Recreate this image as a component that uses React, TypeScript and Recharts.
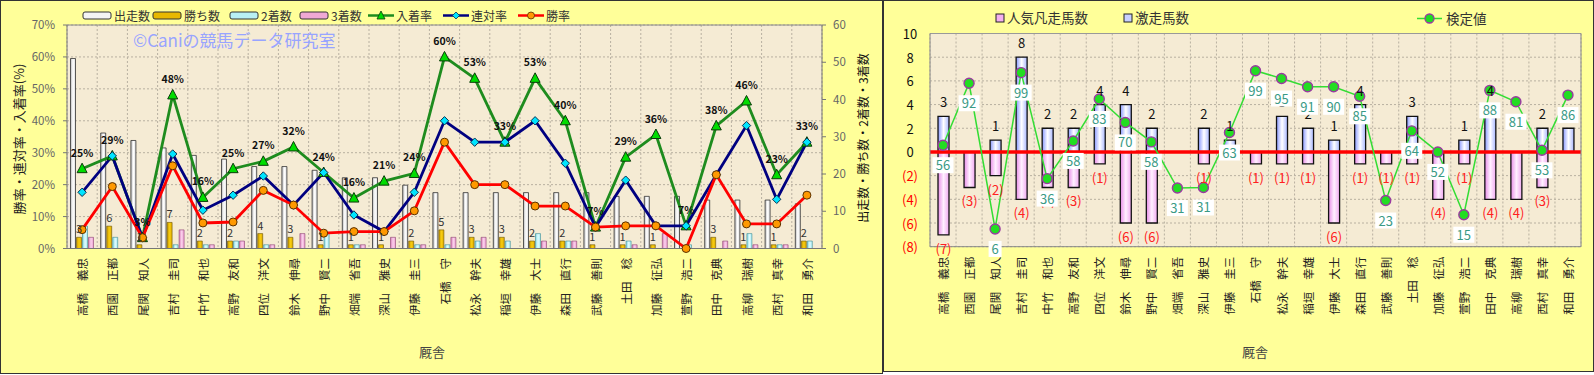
import React from "react";
import {
  ComposedChart,
  Bar,
  Line,
  XAxis,
  YAxis,
  CartesianGrid,
  LabelList,
  ReferenceLine,
} from "recharts";

const FONT = '"Noto Sans CJK JP", "Noto Sans", sans-serif';

const trainers = [
  "高橋　義忠", "西園　正都", "尾関　知人", "吉村　圭司", "中竹　和也",
  "高野　友和", "四位　洋文", "鈴木　伸尋", "野中　賢二", "畑端　省吾",
  "深山　雅史", "伊藤　圭三", "石橋　守", "松永　幹夫", "稲垣　幸雄",
  "伊藤　大士", "森田　直行", "武藤　善則", "土田　稔", "加藤　征弘",
  "萱野　浩二", "田中　克典", "高柳　瑞樹", "西村　真幸", "和田　勇介",
];

// left chart: counts (right axis)
const starts = [51, 31, 29, 27, 25, 24, 22, 22, 21, 19, 19, 17, 15, 15, 15, 15, 15, 15, 14, 14, 14, 13, 13, 13, 12];
const wins = [3, 6, 1, 7, 2, 2, 4, 3, 1, 1, 1, 2, 5, 3, 3, 2, 2, 1, 1, 1, 0, 3, 1, 1, 2];
const seconds = [6, 3, 0, 1, 1, 2, 1, 0, 4, 1, 0, 1, 1, 2, 2, 4, 2, 0, 2, 0, 1, 0, 4, 1, 2];
const thirds = [3, 0, 0, 5, 1, 2, 1, 4, 0, 1, 3, 1, 3, 3, 0, 2, 2, 0, 1, 4, 0, 2, 1, 1, 0];

// left chart: rates in % (left axis)
const placeRate = [25, 29, 3.4, 48.1, 16, 25, 27.3, 31.8, 23.8, 15.8, 21.1, 23.5, 60, 53.3, 33.3, 53.3, 40, 6.7, 28.6, 35.7, 7.1, 38.4, 46.2, 23.1, 33.3];
const quinellaRate = [17.6, 29, 3.4, 29.6, 12, 16.7, 22.7, 13.6, 23.8, 10.5, 5.3, 17.6, 40, 33.3, 33.3, 40, 26.7, 6.7, 21.4, 7.1, 7.1, 23.1, 38.5, 15.4, 33.3];
const winRate = [5.9, 19.4, 3.4, 25.9, 8, 8.3, 18.2, 13.6, 4.8, 5.3, 5.3, 11.8, 33.3, 20, 20, 13.3, 13.3, 6.7, 7.1, 7.1, 0, 23.1, 7.7, 7.7, 16.7];

// right chart
const gekisou = [3, 0, 1, 8, 2, 2, 4, 4, 2, 0, 2, 1, 0, 3, 2, 1, 4, 0, 3, 0, 1, 4, 0, 2, 2];
const bonsou = [-7, -3, -2, -4, -3, -3, -1, -6, -6, 0, -1, 0, -1, -1, -1, -6, -1, -1, -1, -4, -1, -4, -4, -3, 0];
const kenteiPos = [0.57, 5.8, -6.5, 6.7, -2.25, 0.93, 4.47, 2.49, 0.85, -3.05, -3.0, 1.64, 6.86, 6.2, 5.5, 5.5, 4.7, -4.1, 1.78, 0, -5.3, 5.2, 4.24, 0.14, 4.8];
const kenteiLabel = [56, 92, 6, 99, 36, 58, 83, 70, 58, 31, 31, 63, 99, 95, 91, 90, 85, 23, 64, 52, 15, 88, 81, 53, 86];

const rateTicks = [0, 10, 20, 30, 40, 50, 60, 70];
const countTicks = [0, 10, 20, 30, 40, 50, 60];
const diffTicks = [-8, -6, -4, -2, 0, 2, 4, 6, 8, 10];

const leftData = trainers.map((name, i) => ({
  name,
  starts: starts[i],
  wins: wins[i],
  seconds: seconds[i],
  thirds: thirds[i],
  placeRate: placeRate[i],
  quinellaRate: quinellaRate[i],
  winRate: winRate[i],
}));

const rightData = trainers.map((name, i) => ({
  name,
  gekisou: gekisou[i],
  bonsou: bonsou[i],
  kentei: kenteiPos[i],
  kenteiLabel: kenteiLabel[i],
}));

const boundaries = ({ offset }: any) =>
  Array.from({ length: trainers.length + 1 }, (_, i) => offset.left + (i * offset.width) / trainers.length);

function NameTick({ x, y, payload, dy }: any) {
  const ty = y + dy;
  const [sur, given] = String(payload.value).split("　");
  return (
    <text
      x={x}
      y={ty}
      transform={`rotate(-90, ${x}, ${ty})`}
      textAnchor="end"
      dominantBaseline="central"
      fontSize={11.5}
      fill="#222"
      fontFamily={FONT}
    >
      <tspan>{sur}</tspan>
      <tspan dx={12}>{given}</tspan>
    </text>
  );
}

function SignTick({ x, y, payload }: any) {
  const v = payload.value;
  return (
    <text
      x={x - 12}
      y={y}
      textAnchor="middle"
      dominantBaseline="central"
      fontSize={13}
      fill={v < 0 ? "#FF0000" : "#111"}
      fontFamily={FONT}
    >
      {v < 0 ? `(${-v})` : v}
    </text>
  );
}

const triangleDot = (p: any) => (
  <path
    key={`tri-${p.index}`}
    d={`M${p.cx},${p.cy - 5.5} L${p.cx + 5},${p.cy + 4} L${p.cx - 5},${p.cy + 4} Z`}
    fill="#00DD00"
    stroke="#0A3A0A"
    strokeWidth={1}
  />
);

const diamondDot = (p: any) => (
  <path
    key={`dia-${p.index}`}
    d={`M${p.cx},${p.cy - 4.2} L${p.cx + 4.2},${p.cy} L${p.cx},${p.cy + 4.2} L${p.cx - 4.2},${p.cy} Z`}
    fill="#00E5FF"
    stroke="#0A3050"
    strokeWidth={1}
  />
);

const circleDot = (p: any) => (
  <circle key={`cir-${p.index}`} cx={p.cx} cy={p.cy} r={4} fill="#FF9900" stroke="#5A3000" strokeWidth={1} />
);

const kenteiDot = (p: any) => (
  <circle key={`ken-${p.index}`} cx={p.cx} cy={p.cy} r={5} fill="#22DD22" stroke="#9A3AA0" strokeWidth={1.4} />
);

const placeLabel = (p: any) => (
  <text x={p.x} y={p.y - 12} textAnchor="middle" fontSize={10.5} fontWeight="bold" fill="#111" fontFamily={FONT}>
    {Math.round(p.value)}%
  </text>
);

const winsLabel = (p: any) =>
  p.value > 0 ? (
    <text x={p.x + p.width / 2} y={p.y - 4} textAnchor="middle" fontSize={11} fill="#333" fontFamily={FONT}>
      {p.value}
    </text>
  ) : null;

const gekisouLabel = (p: any) =>
  p.value > 0 ? (
    <text x={p.x + p.width / 2} y={Math.min(p.y, p.y + p.height) - 9} textAnchor="middle" fontSize={13} fill="#111" fontFamily={FONT}>
      {p.value}
    </text>
  ) : null;

const bonsouLabel = (p: any) =>
  p.value < 0 ? (
    <text x={p.x + p.width / 2} y={Math.max(p.y, p.y + p.height) + 19} textAnchor="middle" fontSize={13} fill="#FF2020" fontFamily={FONT}>
      ({-p.value})
    </text>
  ) : null;

const kenteiBox = (p: any) => {
  const s = String(p.value);
  const w = s.length * 8 + 5;
  return (
    <g>
      <rect x={p.x - w / 2} y={p.y + 12} width={w} height={16} fill="#FFFFFF" />
      <text x={p.x} y={p.y + 25} textAnchor="middle" fontSize={13} fill="#3A9A85" fontFamily={FONT}>
        {s}
      </text>
    </g>
  );
};

const leftLegendBars = [
  { name: "出走数", x: 82, fill: "#F4F4F4" },
  { name: "勝ち数", x: 152, fill: "#E8B800" },
  { name: "2着数", x: 229, fill: "#B8F0F4" },
  { name: "3着数", x: 299, fill: "#F0A8D4" },
];
const leftLegendLines = [
  { name: "入着率", x: 367, stroke: "#1E8C1E", kind: "tri" },
  { name: "連対率", x: 442, stroke: "#000080", kind: "dia" },
  { name: "勝率", x: 517, stroke: "#FF0000", kind: "cir" },
];

export default function App() {
  return (
    <div style={{ position: "relative", width: 1594, height: 375, background: "#fff", fontFamily: FONT }}>
      <style>{`body{margin:0}`}</style>

      {/* left chart */}
      <div
        style={{
          position: "absolute",
          left: 0,
          top: 0,
          width: 883,
          height: 374,
          boxSizing: "border-box",
          border: "1px solid #333",
          background: "#FFFF99",
        }}
      >
        <ComposedChart
          width={881}
          height={372}
          data={leftData}
          margin={{ top: 24, right: 0, bottom: 0, left: 0 }}
          barCategoryGap={3.5}
          barGap={1}
        >
          <defs>
            <linearGradient id="gWhite" x1="0" y1="0" x2="1" y2="0">
              <stop offset="0%" stopColor="#BBBBBB" />
              <stop offset="50%" stopColor="#FFFFFF" />
              <stop offset="100%" stopColor="#DDDDDD" />
            </linearGradient>
            <linearGradient id="gGold" x1="0" y1="0" x2="1" y2="0">
              <stop offset="0%" stopColor="#C89A00" />
              <stop offset="50%" stopColor="#F8CC10" />
              <stop offset="100%" stopColor="#E0B000" />
            </linearGradient>
            <linearGradient id="gCyan" x1="0" y1="0" x2="1" y2="0">
              <stop offset="0%" stopColor="#80D4E0" />
              <stop offset="50%" stopColor="#E0FCFE" />
              <stop offset="100%" stopColor="#A8EAF2" />
            </linearGradient>
            <linearGradient id="gPink" x1="0" y1="0" x2="1" y2="0">
              <stop offset="0%" stopColor="#D880B8" />
              <stop offset="50%" stopColor="#FAD0EC" />
              <stop offset="100%" stopColor="#EEA0D2" />
            </linearGradient>
          </defs>
          <CartesianGrid
            yAxisId="left"
            fill="#F5EBD4"
            stroke="#B8B0A0"
            strokeDasharray="2 2"
            verticalCoordinatesGenerator={boundaries}
          />
          <XAxis
            dataKey="name"
            interval={0}
            height={124.5}
            tickLine={false}
            axisLine={{ stroke: "#777" }}
            tick={<NameTick dy={1.5} />}
          />
          <YAxis
            yAxisId="left"
            orientation="left"
            width={66}
            domain={[0, 70]}
            ticks={rateTicks}
            tickFormatter={(v) => `${v}%`}
            tickSize={4}
            tickMargin={8}
            tickLine={{ stroke: "#777" }}
            axisLine={{ stroke: "#777" }}
            tick={{ fill: "#666", fontSize: 11.5, fontFamily: FONT }}
          />
          <YAxis
            yAxisId="right"
            orientation="right"
            width={60}
            domain={[0, 60]}
            ticks={countTicks}
            tickSize={4}
            tickMargin={7}
            tickLine={{ stroke: "#777" }}
            axisLine={{ stroke: "#777" }}
            tick={{ fill: "#666", fontSize: 11.5, fontFamily: FONT, textAnchor: "start" }}
          />
          <ReferenceLine yAxisId="left" y={70} stroke="#888" />
          <Bar yAxisId="right" dataKey="starts" fill="url(#gWhite)" stroke="#333" strokeWidth={0.8} isAnimationActive={false} />
          <Bar yAxisId="right" dataKey="wins" fill="url(#gGold)" stroke="#6A5000" strokeWidth={0.6} isAnimationActive={false}>
            <LabelList dataKey="wins" content={winsLabel} />
          </Bar>
          <Bar yAxisId="right" dataKey="seconds" fill="url(#gCyan)" stroke="#3A8A90" strokeWidth={0.6} isAnimationActive={false} />
          <Bar yAxisId="right" dataKey="thirds" fill="url(#gPink)" stroke="#8A4070" strokeWidth={0.6} isAnimationActive={false} />
          <Line yAxisId="left" dataKey="placeRate" stroke="#1E8C1E" strokeWidth={2.8} dot={triangleDot} isAnimationActive={false}>
            <LabelList dataKey="placeRate" content={placeLabel} />
          </Line>
          <Line yAxisId="left" dataKey="quinellaRate" stroke="#000080" strokeWidth={2.8} dot={diamondDot} isAnimationActive={false} />
          <Line yAxisId="left" dataKey="winRate" stroke="#FF0000" strokeWidth={2.8} dot={circleDot} isAnimationActive={false} />
        </ComposedChart>
        <svg width={881} height={372} style={{ position: "absolute", left: 0, top: 0, pointerEvents: "none" }}>
          {leftLegendBars.map((b) => (
            <g key={b.name}>
              <rect x={b.x} y={11} width={28} height={7} rx={2} fill={b.fill} stroke="#333" strokeWidth={1} />
              <text x={b.x + 31} y={19.5} fontSize={12} fill="#333" fontFamily={FONT}>
                {b.name}
              </text>
            </g>
          ))}
          {leftLegendLines.map((l) => {
            const cx = l.x + 13;
            return (
              <g key={l.name}>
                <line x1={l.x} x2={l.x + 26} y1={14.5} y2={14.5} stroke={l.stroke} strokeWidth={2.5} />
                {l.kind === "tri" && <path d={`M${cx},${10} L${cx + 4},${18} L${cx - 4},${18} Z`} fill="#00DD00" stroke="#0A3A0A" strokeWidth={0.8} />}
                {l.kind === "dia" && <path d={`M${cx},${11} L${cx + 3.5},${14.5} L${cx},${18} L${cx - 3.5},${14.5} Z`} fill="#00E5FF" stroke="#0A3050" strokeWidth={0.8} />}
                {l.kind === "cir" && <circle cx={cx} cy={14.5} r={3.5} fill="#FF9900" stroke="#5A3000" strokeWidth={0.8} />}
                <text x={l.x + 28} y={19.5} fontSize={12} fill="#333" fontFamily={FONT}>
                  {l.name}
                </text>
              </g>
            );
          })}
          <text x={132} y={46} fontSize={17} fill="#98A4FF" fontFamily={FONT}>
            ©Caniの競馬データ研究室
          </text>
          <text x={17} y={138} transform="rotate(-90, 17, 138)" textAnchor="middle" dominantBaseline="central" fontSize={13} fill="#222" fontFamily={FONT}>
            勝率・連対率・入着率(%)
          </text>
          <text x={861} y={137} transform="rotate(-90, 861, 137)" textAnchor="middle" dominantBaseline="central" fontSize={12} fill="#111" fontFamily={FONT}>
            出走数・勝ち数・2着数・3着数
          </text>
          <text x={431} y={350} textAnchor="middle" dominantBaseline="central" fontSize={13} fill="#444" fontFamily={FONT}>
            厩舎
          </text>
        </svg>
      </div>

      {/* right chart */}
      <div
        style={{
          position: "absolute",
          left: 883,
          top: 0,
          width: 711,
          height: 372,
          boxSizing: "border-box",
          border: "1px solid #333",
          background: "#FFFF99",
        }}
      >
        <ComposedChart
          width={709}
          height={370}
          data={rightData}
          margin={{ top: 32.5, right: 0, bottom: 0, left: 0 }}
          stackOffset="sign"
        >
          <defs>
            <linearGradient id="gBlue" x1="0" y1="0" x2="1" y2="0">
              <stop offset="0%" stopColor="#8898FF" />
              <stop offset="50%" stopColor="#FFFFFF" />
              <stop offset="100%" stopColor="#A8B6FF" />
            </linearGradient>
            <linearGradient id="gMag" x1="0" y1="0" x2="1" y2="0">
              <stop offset="0%" stopColor="#E88CE8" />
              <stop offset="50%" stopColor="#FFF0FF" />
              <stop offset="100%" stopColor="#F0A8F0" />
            </linearGradient>
          </defs>
          <CartesianGrid
            yAxisId="v"
            fill="#F5EBD4"
            stroke="#B8B0A0"
            strokeDasharray="2 2"
            verticalCoordinatesGenerator={boundaries}
          />
          <XAxis
            dataKey="name"
            interval={0}
            height={124.3}
            tickLine={false}
            axisLine={{ stroke: "#888" }}
            tick={<NameTick dy={2} />}
          />
          <YAxis
            yAxisId="v"
            width={46}
            domain={[-8, 10]}
            ticks={diffTicks}
            tickLine={false}
            axisLine={{ stroke: "#888" }}
            tick={<SignTick />}
          />
          <YAxis yAxisId="edge" orientation="right" width={12} tick={false} tickLine={false} axisLine={{ stroke: "#888" }} />
          <ReferenceLine yAxisId="v" y={10} stroke="#999" />
          <Bar yAxisId="v" dataKey="bonsou" stackId="s" barSize={11} fill="url(#gMag)" stroke="#111" strokeWidth={1.3} isAnimationActive={false}>
            <LabelList dataKey="bonsou" content={bonsouLabel} />
          </Bar>
          <Bar yAxisId="v" dataKey="gekisou" stackId="s" barSize={11} fill="url(#gBlue)" stroke="#111" strokeWidth={1.3} isAnimationActive={false}>
            <LabelList dataKey="gekisou" content={gekisouLabel} />
          </Bar>
          <ReferenceLine yAxisId="v" y={0} stroke="#FF0000" strokeWidth={3.5} />
          <Line yAxisId="v" dataKey="kentei" stroke="#33DD33" strokeWidth={1.5} dot={kenteiDot} isAnimationActive={false}>
            <LabelList dataKey="kenteiLabel" content={kenteiBox} />
          </Line>
        </ComposedChart>
        <svg width={709} height={370} style={{ position: "absolute", left: 0, top: 0, pointerEvents: "none" }}>
          <rect x={112} y={13} width={8} height={8} fill="#F4B0F0" stroke="#222" strokeWidth={1} />
          <text x={123} y={22} fontSize={13.5} fill="#333" fontFamily={FONT}>
            人気凡走馬数
          </text>
          <rect x={240} y={13} width={8} height={8} fill="#C8D0FF" stroke="#222" strokeWidth={1} />
          <text x={251} y={22} fontSize={13.5} fill="#333" fontFamily={FONT}>
            激走馬数
          </text>
          <line x1={533} x2={558} y1={17.5} y2={17.5} stroke="#33DD33" strokeWidth={1.5} />
          <circle cx={545.5} cy={17.5} r={4.5} fill="#22DD22" stroke="#9A3AA0" strokeWidth={1.3} />
          <text x={562} y={22.5} fontSize={13.5} fill="#333" fontFamily={FONT}>
            検定値
          </text>
          <text x={371} y={350} textAnchor="middle" dominantBaseline="central" fontSize={13} fill="#444" fontFamily={FONT}>
            厩舎
          </text>
        </svg>
      </div>
    </div>
  );
}
